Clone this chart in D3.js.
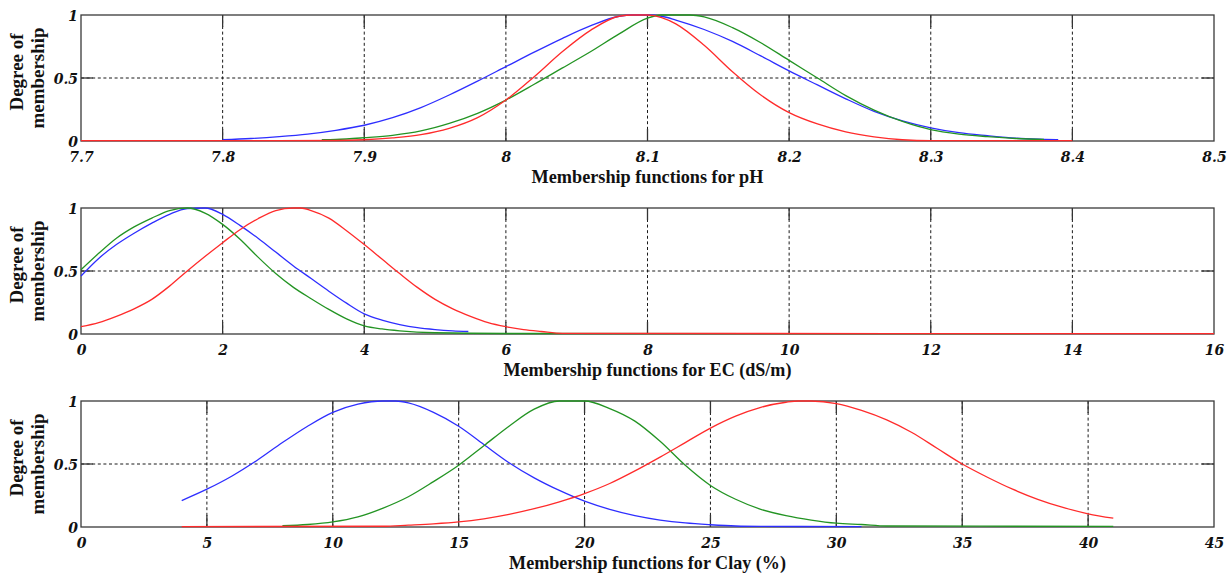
<!DOCTYPE html>
<html>
<head>
<meta charset="utf-8">
<script src="https://cdn.jsdelivr.net/npm/d3@7"></script>
<style>
  html, body { margin: 0; padding: 0; background: #fff; }
  svg { display: block; }
</style>
</head>
<body>
<svg id="chart" width="1232" height="575"></svg>
<script>
// ---- Axis ticks and labels ----
const yTicks = [0, 0.5, 1];
const yTickLabels = ["0", "0.5", "1"];

const phTicks = [7.7, 7.8, 7.9, 8.0, 8.1, 8.2, 8.3, 8.4, 8.5];
const phTickLabels = ["7.7", "7.8", "7.9", "8", "8.1", "8.2", "8.3", "8.4", "8.5"];
const ecTicks = [0, 2, 4, 6, 8, 10, 12, 14, 16];
const ecTickLabels = ["0", "2", "4", "6", "8", "10", "12", "14", "16"];
const clayTicks = [0, 5, 10, 15, 20, 25, 30, 35, 40, 45];
const clayTickLabels = ["0", "5", "10", "15", "20", "25", "30", "35", "40", "45"];

const phTitle = "Membership functions for pH";
const ecTitle = "Membership functions for EC (dS/m)";
const clayTitle = "Membership functions for Clay (%)";
const yTitleLines = ["Degree of", "membership"];

// ---- pH membership functions ----
const phBlueX = [7.80,7.82,7.84,7.86,7.88,7.90,7.92,7.94,7.96,7.98,8.00,8.02,8.04,8.06,8.08,8.09,8.10,8.11,8.12,8.14,8.16,8.18,8.20,8.22,8.24,8.26,8.28,8.30,8.32,8.34,8.36,8.38,8.39];
const phBlueY = [0.01,0.02,0.035,0.055,0.085,0.125,0.185,0.265,0.365,0.475,0.59,0.705,0.815,0.915,0.99,1.0,1.0,0.99,0.96,0.885,0.79,0.675,0.556,0.445,0.335,0.235,0.16,0.105,0.066,0.042,0.022,0.013,0.01];

const phGreenX = [7.87,7.88,7.90,7.92,7.94,7.96,7.98,8.00,8.02,8.04,8.06,8.08,8.10,8.11,8.13,8.14,8.16,8.18,8.20,8.22,8.24,8.26,8.28,8.30,8.32,8.34,8.36,8.38];
const phGreenY = [0.01,0.012,0.026,0.045,0.08,0.14,0.22,0.325,0.45,0.58,0.71,0.85,0.975,1.0,1.0,0.985,0.90,0.78,0.64,0.50,0.36,0.245,0.155,0.09,0.055,0.035,0.02,0.012];

const phRedX = [7.70,7.80,7.88,7.90,7.92,7.94,7.96,7.98,8.00,8.02,8.04,8.06,8.08,8.09,8.10,8.11,8.12,8.14,8.16,8.18,8.20,8.22,8.24,8.26,8.28,8.30,8.40];
const phRedY = [0.003,0.003,0.004,0.01,0.025,0.05,0.10,0.185,0.325,0.51,0.71,0.88,0.99,1.0,1.0,0.98,0.93,0.76,0.55,0.365,0.225,0.135,0.072,0.033,0.01,0.003,0.003];

// ---- EC membership functions ----
const ecBlueX = [0,0.25,0.5,0.75,1.0,1.25,1.5,1.75,2.0,2.25,2.5,2.75,3.0,3.25,3.5,3.75,4.0,4.25,4.5,4.75,5.0,5.25,5.47];
const ecBlueY = [0.46,0.6,0.71,0.8,0.88,0.95,0.995,1.0,0.95,0.86,0.76,0.65,0.54,0.44,0.34,0.245,0.16,0.11,0.075,0.05,0.035,0.025,0.02];

const ecGreenX = [0,0.25,0.5,0.75,1.0,1.25,1.5,1.75,2.0,2.25,2.5,2.75,3.0,3.25,3.5,3.75,4.0,4.25,4.5,5.0,6.0,13.4];
const ecGreenY = [0.51,0.64,0.76,0.85,0.92,0.98,1.0,0.96,0.87,0.75,0.61,0.48,0.37,0.28,0.195,0.12,0.065,0.04,0.025,0.01,0.004,0.003];

const ecRedX = [0,0.25,0.5,0.75,1.0,1.25,1.5,1.75,2.0,2.25,2.5,2.75,3.0,3.1,3.25,3.5,3.75,4.0,4.25,4.5,4.75,5.0,5.25,5.5,5.75,6.0,6.25,6.5,6.8,16];
const ecRedY = [0.058,0.09,0.14,0.2,0.275,0.38,0.5,0.615,0.725,0.83,0.915,0.98,1.0,1.0,0.98,0.92,0.82,0.71,0.595,0.48,0.37,0.275,0.2,0.14,0.09,0.058,0.035,0.02,0.005,0.003];

// ---- Clay membership functions ----
const clayBlueX = [4,5,6,7,8,9,10,11,12,12.5,13,14,15,16,17,18,19,20,21,22,23,24,25,26,27,31];
const clayBlueY = [0.21,0.30,0.405,0.53,0.67,0.80,0.91,0.975,1.0,1.0,0.985,0.91,0.80,0.655,0.51,0.39,0.29,0.205,0.14,0.09,0.055,0.032,0.018,0.008,0.005,0.003];

const clayGreenX = [8,9,10,11,12,13,14,15,16,17,18,19,20,21,22,23,24,25,26,27,28,29,30,31,32,41];
const clayGreenY = [0.01,0.02,0.04,0.08,0.15,0.24,0.36,0.49,0.645,0.8,0.935,1.0,1.0,0.94,0.84,0.68,0.49,0.33,0.22,0.14,0.09,0.055,0.03,0.02,0.008,0.005];

const clayRedX = [4,12,13,14,15,16,17,18,19,20,21,22,23,24,25,26,27,28,28.5,29,30,31,32,33,34,35,36,37,38,39,40,41];
const clayRedY = [0.003,0.006,0.015,0.025,0.04,0.065,0.1,0.145,0.2,0.265,0.345,0.445,0.555,0.67,0.785,0.88,0.95,0.99,1.0,1.0,0.98,0.925,0.85,0.75,0.625,0.5,0.395,0.3,0.22,0.155,0.105,0.07];

// ---- Layout and styles ----
const plotLeft = 81, plotRight = 1214, plotHeight = 126;
const tickLen = 12;
const colors = { blue: "#2e2eff", green: "#239423", red: "#ff2b2b" };
const serif = "'Liberation Serif', 'DejaVu Serif', serif";
const tickFont = "'DejaVu Serif', serif";

const svg = d3.select("#chart");

function zip(xs, ys) { return xs.map((v, i) => [v, ys[i]]); }

// Scale a text element (font size) so its rendered width equals `target`
function fitWidth(sel, target) {
  const node = sel.node();
  const size = parseFloat(sel.attr("font-size"));
  const w = node.getComputedTextLength();
  if (w > 0) sel.attr("font-size", (size * target / w).toFixed(2));
}

function drawPanel(cfg) {
  const top = cfg.top, bottom = top + plotHeight;
  const x = d3.scaleLinear().domain(cfg.domain).range([plotLeft, plotRight]);
  const y = d3.scaleLinear().domain([0, 1]).range([bottom, top]);
  const g = svg.append("g");

  // dotted grid
  const innerX = cfg.ticks.filter(t => x(t) > plotLeft + 1 && x(t) < plotRight - 1);
  g.append("g").selectAll("line").data(innerX).join("line")
    .attr("x1", d => x(d)).attr("x2", d => x(d))
    .attr("y1", y(0)).attr("y2", y(1))
    .attr("stroke", "#1a1a1a").attr("stroke-width", 1)
    .attr("stroke-dasharray", "3,2.6");
  g.append("line")
    .attr("x1", plotLeft).attr("x2", plotRight)
    .attr("y1", y(0.5)).attr("y2", y(0.5))
    .attr("stroke", "#1a1a1a").attr("stroke-width", 1)
    .attr("stroke-dasharray", "3,2.6");

  // inward tick marks
  const tk = g.append("g").attr("stroke", "#333").attr("stroke-width", 1.3);
  tk.selectAll("line.bt").data(innerX).join("line").attr("class", "bt")
    .attr("x1", d => x(d)).attr("x2", d => x(d))
    .attr("y1", y(0)).attr("y2", y(0) - tickLen);
  tk.selectAll("line.tt").data(innerX).join("line").attr("class", "tt")
    .attr("x1", d => x(d)).attr("x2", d => x(d))
    .attr("y1", y(1)).attr("y2", y(1) + tickLen);
  tk.append("line").attr("x1", plotLeft).attr("x2", plotLeft + tickLen)
    .attr("y1", y(0.5)).attr("y2", y(0.5));
  tk.append("line").attr("x1", plotRight).attr("x2", plotRight - tickLen)
    .attr("y1", y(0.5)).attr("y2", y(0.5));

  // frame
  g.append("rect")
    .attr("x", plotLeft).attr("y", top)
    .attr("width", plotRight - plotLeft).attr("height", plotHeight)
    .attr("fill", "none").attr("stroke", "#3a3a3a").attr("stroke-width", 1.3);

  // membership curves
  const line = d3.line().x(d => x(d[0])).y(d => y(d[1])).curve(d3.curveMonotoneX);
  cfg.series.forEach(s => {
    g.append("path").datum(zip(s.x, s.y))
      .attr("d", line).attr("fill", "none")
      .attr("stroke", s.color).attr("stroke-width", 1.3)
      .attr("stroke-linejoin", "round");
  });

  // x tick labels
  const xAxis = d3.axisBottom(x).tickValues(cfg.ticks)
    .tickFormat((d, i) => cfg.tickLabels[i]).tickSize(0);
  const xa = g.append("g").attr("transform", `translate(0,${bottom})`).call(xAxis);
  xa.select(".domain").remove();
  xa.selectAll("text")
    .attr("y", 20.8).attr("dy", null)
    .attr("font-family", tickFont).attr("font-weight", "bold")
    .attr("font-style", "italic").attr("font-size", 14).attr("fill", "#111");

  // y tick labels
  const yAxis = d3.axisLeft(y).tickValues(yTicks)
    .tickFormat((d, i) => yTickLabels[i]).tickSize(0);
  const ya = g.append("g").attr("transform", `translate(${plotLeft - 3},0)`).call(yAxis);
  ya.select(".domain").remove();
  ya.selectAll("text")
    .attr("x", 0).attr("dy", null)
    .attr("transform", "translate(0,5.5)")
    .attr("font-family", tickFont).attr("font-weight", "bold")
    .attr("font-style", "italic").attr("font-size", 14).attr("fill", "#111");

  // x title
  const t = g.append("text")
    .attr("x", (plotLeft + plotRight) / 2).attr("y", bottom + 41.5)
    .attr("text-anchor", "middle")
    .attr("font-family", serif).attr("font-weight", "bold")
    .attr("font-size", 18).attr("fill", "#111")
    .text(cfg.title);
  fitWidth(t, cfg.titleWidth);

  // y title (two rotated lines)
  const cy = top + plotHeight / 2;
  const yl1 = g.append("text")
    .attr("transform", `translate(22.7,${cy - 6}) rotate(-90)`)
    .attr("text-anchor", "middle")
    .attr("font-family", serif).attr("font-weight", "bold")
    .attr("font-size", 17).attr("fill", "#111")
    .text(yTitleLines[0]);
  const yl2 = g.append("text")
    .attr("transform", `translate(43.5,${cy}) rotate(-90)`)
    .attr("text-anchor", "middle")
    .attr("font-family", serif).attr("font-weight", "bold")
    .attr("font-size", 17).attr("fill", "#111")
    .text(yTitleLines[1]);
  fitWidth(yl2, 101);
  yl1.attr("font-size", yl2.attr("font-size"));
}

drawPanel({
  top: 15, domain: [7.7, 8.5], ticks: phTicks, tickLabels: phTickLabels,
  title: phTitle, titleWidth: 232,
  series: [
    { x: phBlueX, y: phBlueY, color: colors.blue },
    { x: phGreenX, y: phGreenY, color: colors.green },
    { x: phRedX, y: phRedY, color: colors.red }
  ]
});

drawPanel({
  top: 208, domain: [0, 16], ticks: ecTicks, tickLabels: ecTickLabels,
  title: ecTitle, titleWidth: 288,
  series: [
    { x: ecBlueX, y: ecBlueY, color: colors.blue },
    { x: ecGreenX, y: ecGreenY, color: colors.green },
    { x: ecRedX, y: ecRedY, color: colors.red }
  ]
});

drawPanel({
  top: 401, domain: [0, 45], ticks: clayTicks, tickLabels: clayTickLabels,
  title: clayTitle, titleWidth: 277,
  series: [
    { x: clayBlueX, y: clayBlueY, color: colors.blue },
    { x: clayGreenX, y: clayGreenY, color: colors.green },
    { x: clayRedX, y: clayRedY, color: colors.red }
  ]
});
</script>
</body>
</html>
